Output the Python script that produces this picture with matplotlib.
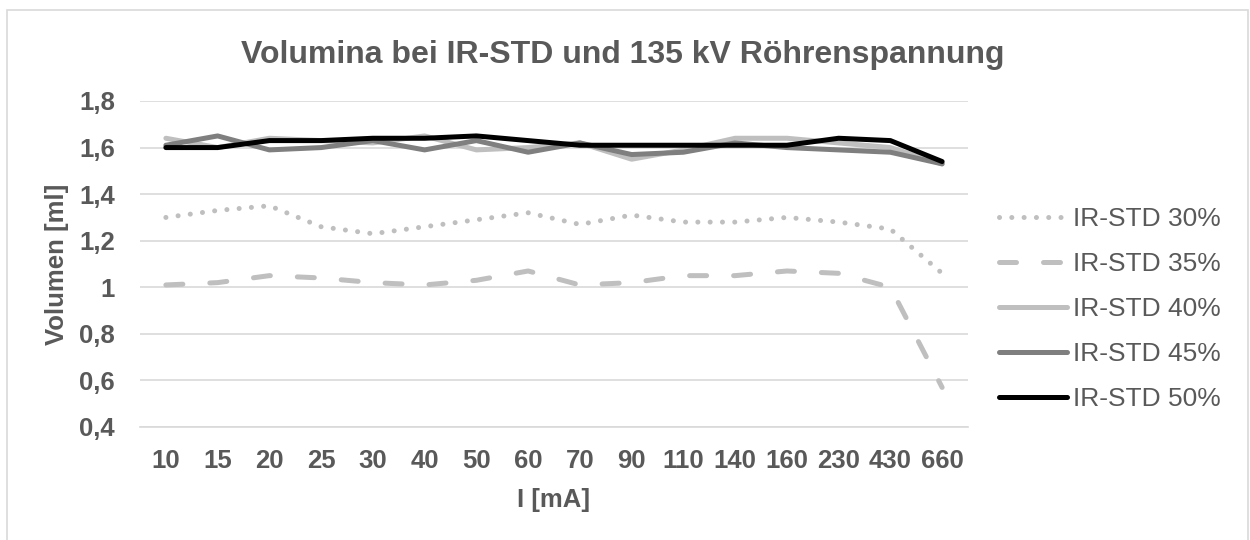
import matplotlib
matplotlib.use("Agg")
import matplotlib.pyplot as plt
from matplotlib.patches import Rectangle

categories = ["10", "15", "20", "25", "30", "40", "50", "60", "70", "90",
              "110", "140", "160", "230", "430", "660"]
ir30 = [1.30, 1.33, 1.35, 1.26, 1.23, 1.26, 1.29, 1.32, 1.27, 1.31, 1.28, 1.28, 1.30, 1.28, 1.25, 1.06]
ir35 = [1.01, 1.02, 1.05, 1.04, 1.02, 1.01, 1.03, 1.07, 1.01, 1.02, 1.05, 1.05, 1.07, 1.06, 1.00, 0.57]
ir40 = [1.64, 1.60, 1.64, 1.63, 1.62, 1.65, 1.59, 1.60, 1.62, 1.55, 1.59, 1.64, 1.64, 1.62, 1.60, 1.53]
ir45 = [1.61, 1.65, 1.59, 1.60, 1.63, 1.59, 1.63, 1.58, 1.62, 1.57, 1.58, 1.62, 1.60, 1.59, 1.58, 1.53]
ir50 = [1.60, 1.60, 1.63, 1.63, 1.64, 1.64, 1.65, 1.63, 1.61, 1.61, 1.61, 1.61, 1.61, 1.64, 1.63, 1.54]
labels = ["IR-STD 30%", "IR-STD 35%", "IR-STD 40%", "IR-STD 45%", "IR-STD 50%"]
yticks = [0.4, 0.6, 0.8, 1.0, 1.2, 1.4, 1.6, 1.8]
ytick_labels = ["0,4", "0,6", "0,8", "1", "1,2", "1,4", "1,6", "1,8"]

plt.rcParams['font.family'] = ['Liberation Sans', 'DejaVu Sans']
TXT = '#595959'
W, H = 1250, 540
fig = plt.figure(figsize=(W / 100, H / 100), dpi=100)

# outer chart border
fig.patches.append(Rectangle((7 / W, -0.1), (1248 - 7) / W, 1.1 - 10 / H,
                             transform=fig.transFigure, fill=False,
                             edgecolor='#d9d9d9', lw=1.2))

ax = fig.add_axes([140 / W, (H - 427) / H, 828 / W, 326 / H])
x = list(range(len(categories)))
lw = 3.6
ax.plot(x, ir30, color='#bfbfbf', lw=lw, linestyle=(0, (0.01, 2.45)),
        dash_capstyle='round', label=labels[0])
ax.plot(x, ir35, color='#bfbfbf', lw=lw, linestyle=(0, (3.4, 5.4)),
        dash_capstyle='round', label=labels[1])
ax.plot(x, ir40, color='#bfbfbf', lw=lw, solid_capstyle='round',
        solid_joinstyle='round', label=labels[2])
ax.plot(x, ir45, color='#7f7f7f', lw=lw, solid_capstyle='round',
        solid_joinstyle='round', label=labels[3])
ax.plot(x, ir50, color='#000000', lw=lw, solid_capstyle='round',
        solid_joinstyle='round', label=labels[4])

ax.set_xlim(-0.5, len(categories) - 0.5)
ax.set_ylim(0.4, 1.8)
ax.set_yticks(yticks)
ax.set_yticklabels(ytick_labels)
ax.set_xticks(x)
ax.set_xticklabels(categories)
for s in ['top', 'right', 'left']:
    ax.spines[s].set_visible(False)
ax.spines['bottom'].set_color('#d9d9d9')
ax.spines['bottom'].set_linewidth(1.2)
ax.grid(axis='y', color='#d9d9d9', lw=1.2)
ax.set_axisbelow(True)
ax.tick_params(length=0, labelsize=18.5, labelcolor=TXT)
ax.tick_params(axis='x', pad=16)
ax.tick_params(axis='y', pad=18)
for t in ax.get_xticklabels() + ax.get_yticklabels():
    t.set_fontweight('bold')

ax.set_xlabel("I [mA]", fontsize=18.5, fontweight='bold', color=TXT, labelpad=11)
ax.set_ylabel("Volumen [ml]", fontsize=18.5, fontweight='bold', color=TXT, labelpad=7)

fig.text(0.5 * (243 + 1003) / W, 1 - 63 / H, "Volumina bei IR-STD und 135 kV Röhrenspannung",
         ha='center', va='baseline', fontsize=23, fontweight='bold', color=TXT)

leg = ax.legend(loc='center left', bbox_to_anchor=(998.5 / W, 1 - 309 / H),
                bbox_transform=fig.transFigure, frameon=False, fontsize=19,
                handlelength=2.58, handletextpad=0.25, labelspacing=0.8,
                borderaxespad=0, borderpad=0)
for t in leg.get_texts():
    t.set_color(TXT)

fig.savefig("out.png", dpi=100)
